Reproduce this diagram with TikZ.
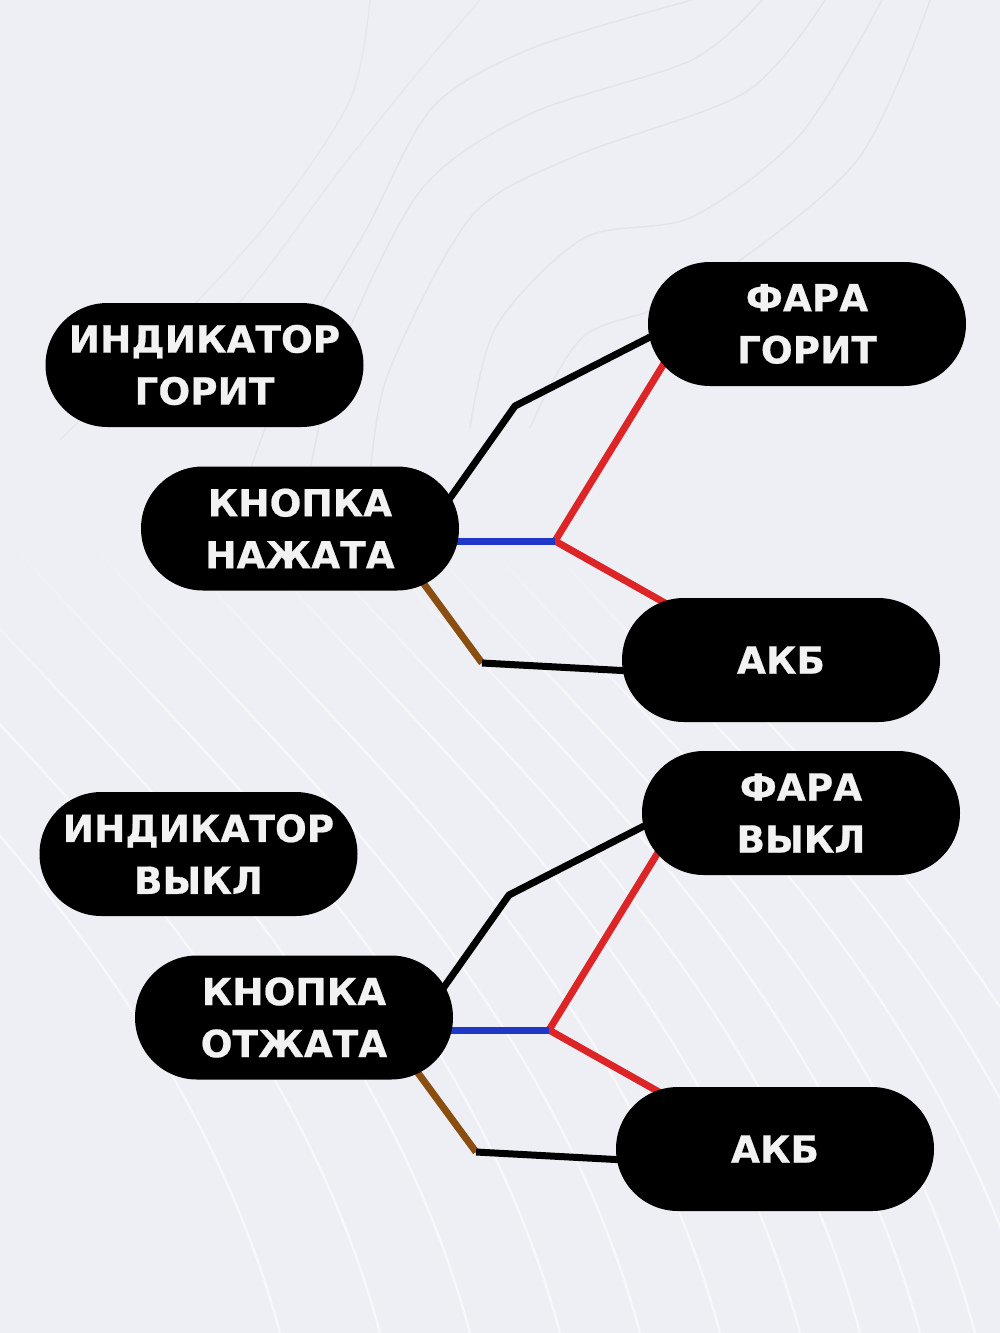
\documentclass[tikz,border=0pt]{standalone}
\usepackage{fontspec}
\setmainfont{DejaVu Sans}[BoldFont={DejaVu Sans Bold},BoldFeatures={FakeBold=0.6}]
\usetikzlibrary{shapes.misc,calc,backgrounds,fadings}
\pgfdeclarelayer{wires}
\pgfsetlayers{background,wires,main}
\definecolor{bgc}{HTML}{EEEFF4}
\definecolor{wgrey}{HTML}{E2E4EB}
\definecolor{wred}{HTML}{DD2426}
\definecolor{wblue}{HTML}{2038C8}
\definecolor{wbrown}{HTML}{8A4E10}
\definecolor{ptext}{HTML}{F2F2F2}
\tikzset{
  x=1pt,y=-1pt,
  pill/.style={rounded rectangle,fill=black,text=ptext,minimum width=318pt,minimum height=124pt,inner sep=0pt,align=center,
    font=\fontsize{37.4}{52}\selectfont\bfseries},
  wire/.style={line width=7pt,line join=round},
  wave/.style={draw=white,line width=2.2pt,opacity=.6},
  topwave/.style={draw=wgrey,line width=1.4pt},
}
\begin{document}
\begin{tikzpicture}
\useasboundingbox (0,0) rectangle (1000,1333);
\begin{scope}[on background layer]
\fill[bgc] (0,0) rectangle (1000,1333);
\clip (0,0) rectangle (1000,1333);
\foreach \d in {-520,-420,-330,-240,-160,-80,0,60,120,175,235,295,350}{
  \draw[wave] ({250+\d},540) .. controls ({400+\d},720) and ({700+\d},960) .. ({800+\d},1333);
}
\fill[bgc,path fading=south] (0,530) rectangle (1000,720);
\draw[topwave] plot[smooth] coordinates {(692,0) (530,49) (432,108) (367,228) (296,352) (250,470)};
\draw[topwave] plot[smooth] coordinates {(762,0) (692,60) (530,114) (421,190) (340,352) (310,470)};
\draw[topwave] plot[smooth] coordinates {(825,0) (746,92) (573,157) (471,217) (388,374) (370,480)};
\draw[topwave] plot[smooth] coordinates {(882,0) (800,135) (692,217) (584,238) (497,325) (470,428)};
\draw[topwave] plot[smooth] coordinates {(930,0) (855,163) (692,293) (584,336) (530,428)};
\draw[topwave,opacity=.7] plot[smooth] coordinates {(480,0) (420,70) (340,170) (250,290) (150,400)};
\draw[topwave,opacity=.7] plot[smooth] coordinates {(370,0) (350,100) (270,220) (170,330) (60,440)};
\end{scope}
% top diagram nodes
\node[pill] (indOn) at (204.5,365) {ИНДИКАТОР\\ГОРИТ};
\node[pill] (btnOn) at (300,528.5) {КНОПКА\\НАЖАТА};
\node[pill] (lampOn) at (807,324) {ФАРА\\ГОРИТ};
\node[pill] (batOn) at (781,660) {АКБ};
% bottom diagram nodes
\node[pill] (indOff) at (198.5,854) {ИНДИКАТОР\\ВЫКЛ};
\node[pill] (btnOff) at (294,1017.5) {КНОПКА\\ОТЖАТА};
\node[pill] (lampOff) at (801,813) {ФАРА\\ВЫКЛ};
\node[pill] (batOff) at (775,1149) {АКБ};
% junctions
\coordinate (bendAOn) at (515,406);
\coordinate (jOn) at (555,541);
\coordinate (bendBOn) at (482,663);
\coordinate (bendAOff) at (509,895);
\coordinate (jOff) at (549,1030);
\coordinate (bendBOff) at (476,1152);
\begin{pgfonlayer}{wires}
  \draw[wire,black] ($(btnOn)+(143,-20.5)$) -- (bendAOn) -- ($(lampOn)+(-157,13)$);
  \draw[wire,wred] ($(lampOn)+(-128,15)$) -- (jOn) -- ($(batOn)+(-100,-48)$);
  \draw[wire,wblue] ($(btnOn)+(150,12.5)$) -- (jOn);
  \draw[wire,wbrown] ($(btnOn)+(120,50)$) -- (bendBOn);
  \draw[wire,black] (bendBOn) -- ($(batOn)+(-150,11)$);
  \draw[wire,black] ($(btnOff)+(143,-20.5)$) -- (bendAOff) -- ($(lampOff)+(-157,13)$);
  \draw[wire,wred] ($(lampOff)+(-128,15)$) -- (jOff) -- ($(batOff)+(-100,-48)$);
  \draw[wire,wblue] ($(btnOff)+(150,12.5)$) -- (jOff);
  \draw[wire,wbrown] ($(btnOff)+(120,50)$) -- (bendBOff);
  \draw[wire,black] (bendBOff) -- ($(batOff)+(-150,11)$);
\end{pgfonlayer}
\end{tikzpicture}
\end{document}
